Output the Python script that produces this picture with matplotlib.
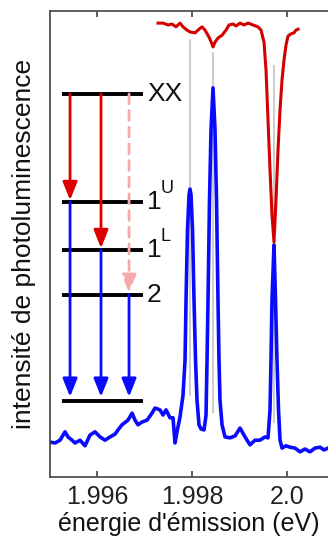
import matplotlib
matplotlib.use("Agg")
import matplotlib.pyplot as plt

plt.rcParams["font.family"] = ["Liberation Sans", "DejaVu Sans"]

# PL spectrum (blue), emission energy in eV, intensity in arb. units
pl_energy = [1.995011, 1.995116, 1.995221, 1.995326, 1.995389, 1.995474, 1.995537,
             1.995642, 1.995747, 1.995853, 1.995958, 1.996063, 1.996168, 1.996274,
             1.996379, 1.996442, 1.996526, 1.996653, 1.996737, 1.996800, 1.996863,
             1.996947, 1.997053, 1.997158, 1.997221, 1.997326, 1.997389, 1.997453,
             1.997537, 1.997600, 1.997642, 1.997684, 1.997747, 1.997811, 1.997853,
             1.997874, 1.997905, 1.997937, 1.997958, 1.997979, 1.998011, 1.998042,
             1.998074, 1.998105, 1.998147, 1.998189, 1.998253, 1.998295, 1.998316,
             1.998337, 1.998368, 1.998400, 1.998442, 1.998484, 1.998516, 1.998547,
             1.998568, 1.998589, 1.998632, 1.998695, 1.998800, 1.998905, 1.999011,
             1.999116, 1.999221, 1.999326, 1.999432, 1.999537, 1.999600, 1.999642,
             1.999663, 1.999684, 1.999726, 1.999758, 1.999789, 1.999821, 1.999853,
             1.999895, 1.999979, 2.000063, 2.000168, 2.000274, 2.000379, 2.000484,
             2.000589, 2.000695, 2.000779, 2.000863]
pl_intensity = [7.5, 7.3, 7.9, 9.7, 8.6, 7.9, 7.3,
                7.9, 6.7, 9.0, 9.7, 8.6, 7.9, 8.6,
                9.2, 10.1, 11.2, 12.2, 13.7, 12.2, 11.2,
                11.8, 12.2, 13.7, 14.8, 14.4, 13.3, 14.4,
                12.7, 12.7, 7.3, 9.7, 12.9, 17.6, 25.1,
                38.0, 53.0, 60.5, 61.8, 60.5, 53.0, 38.0,
                25.1, 16.5, 11.2, 10.3, 10.1, 13.3, 25.1,
                38.0, 59.4, 74.5, 83.5, 74.5, 59.4, 38.0,
                25.1, 16.5, 11.2, 8.6, 8.4, 8.8, 10.5,
                8.6, 6.9, 7.9, 7.9, 8.6, 8.4, 14.4,
                25.1, 38.0, 49.8, 38.0, 25.1, 14.4, 7.9,
                6.2, 6.7, 6.4, 6.2, 5.4, 6.0, 5.4,
                6.2, 6.4, 5.8, 6.2]

# absorption / transmission trace (red)
abs_energy = [1.997284, 1.997389, 1.997495, 1.997579, 1.997663, 1.997747, 1.997811,
              1.997895, 1.997958, 1.998063, 1.998147, 1.998211, 1.998274, 1.998358,
              1.998421, 1.998442, 1.998484, 1.998547, 1.998632, 1.998716, 1.998779,
              1.998863, 1.998926, 1.999011, 1.999095, 1.999179, 1.999284, 1.999389,
              1.999453, 1.999516, 1.999558, 1.999600, 1.999642, 1.999684, 1.999726,
              1.999768, 1.999811, 1.999853, 1.999895, 1.999937, 1.999979, 2.000021,
              2.000084, 2.000147, 2.000189, 2.000232]
abs_signal = [97.4, 97.4, 97.0, 97.2, 96.6, 97.4, 96.6,
              95.9, 95.5, 95.3, 96.1, 96.6, 95.9, 94.4,
              92.9, 92.3, 93.3, 94.2, 94.8, 95.9, 97.0,
              97.2, 96.8, 97.4, 97.0, 97.4, 97.0, 96.6,
              95.9, 93.3, 87.3, 76.6, 65.9, 56.2, 50.4,
              59.4, 70.2, 78.8, 85.2, 89.5, 92.7, 94.6,
              95.1, 95.3, 95.9, 96.1]

# grey guide lines at the transition energies
guide_energy = [1.997958, 1.998442, 1.999726]
guide_top = [93.8, 91.0, 88.2]
guide_bottom = [17.6, 13.9, 11.8]

# energy-level scheme
level_names = ["XX", "1", "1", "2", ""]
level_sup = ["", "U", "L", "", ""]
level_y = [82.2, 59.0, 48.7, 39.1, 16.3]
level_x0, level_x1 = 1.995263, 1.996968
label_x = 1.997053
arrow_x = [1.995432, 1.996084, 1.996674]

fig = plt.figure(figsize=(3.28, 5.39), dpi=100)
ax = fig.add_axes([50 / 328, 62 / 539, 278 / 328, 466 / 539])

for e, top, bot in zip(guide_energy, guide_top, guide_bottom):
    ax.plot([e, e], [bot, top], color="#c8c8c8", lw=1.3, zorder=1)

ax.plot(pl_energy, pl_intensity, color="#0a0aff", lw=2.6, zorder=2, solid_joinstyle="round")
ax.plot(abs_energy, abs_signal, color="#d40000", lw=2.2, zorder=2, solid_joinstyle="round")

# levels
for y in level_y:
    ax.plot([level_x0, level_x1], [y, y], color="black", lw=2.8, zorder=3, solid_capstyle="butt")
for name, sup, y in zip(level_names, level_sup, level_y):
    if name:
        ax.text(label_x, y, name, fontsize=19, va="center", ha="left", color="#111111")
    if sup:
        ax.annotate(sup, xy=(label_x, y), xytext=(9.5, 4), textcoords="offset points",
                    fontsize=13, va="bottom", ha="left", color="#111111")

# transitions
style = "-|>,head_length=0.55,head_width=0.22"
red_tips = [level_y[1], level_y[2]]
for x, yt in zip(arrow_x[:2], red_tips):
    ax.annotate("", xy=(x, yt + 0.4), xytext=(x, level_y[0]),
                arrowprops=dict(arrowstyle=style, color="#dd0000", lw=2.0,
                                mutation_scale=20, shrinkA=0, shrinkB=0), zorder=4)
ax.annotate("", xy=(arrow_x[2], level_y[3] + 0.4), xytext=(arrow_x[2], level_y[0]),
            arrowprops=dict(arrowstyle=style, color="#f4aaaa", lw=2.0, linestyle=(0, (3.5, 2.5)),
                            mutation_scale=20, shrinkA=0, shrinkB=0), zorder=4)
for x, ys in zip(arrow_x, level_y[1:4]):
    ax.annotate("", xy=(x, level_y[4] + 0.9), xytext=(x, ys),
                arrowprops=dict(arrowstyle=style, color="#0a0aff", lw=2.0,
                                mutation_scale=20, shrinkA=0, shrinkB=0), zorder=4)

ax.set_xlim(1.99501, 2.000863)
ax.set_ylim(0, 100)
ax.set_xticks([1.996, 1.998, 2.0])
ax.set_xticklabels(["1.996", "1.998", "2.0"])
ax.set_yticks([])
ax.tick_params(axis="x", direction="in", top=True, length=4, width=1.2,
               colors="#444444", labelsize=18, labelcolor="#222222", pad=6)
ax.spines["right"].set_visible(False)
for s in ["left", "top", "bottom"]:
    ax.spines[s].set_color("#444444")
    ax.spines[s].set_linewidth(1.2)

ax.set_xlabel("énergie d'émission (eV)", fontsize=18, color="#111111", labelpad=2)
ax.set_ylabel("intensité de photoluminescence", fontsize=19, color="#111111", labelpad=10)

fig.savefig("out.png", dpi=100)
